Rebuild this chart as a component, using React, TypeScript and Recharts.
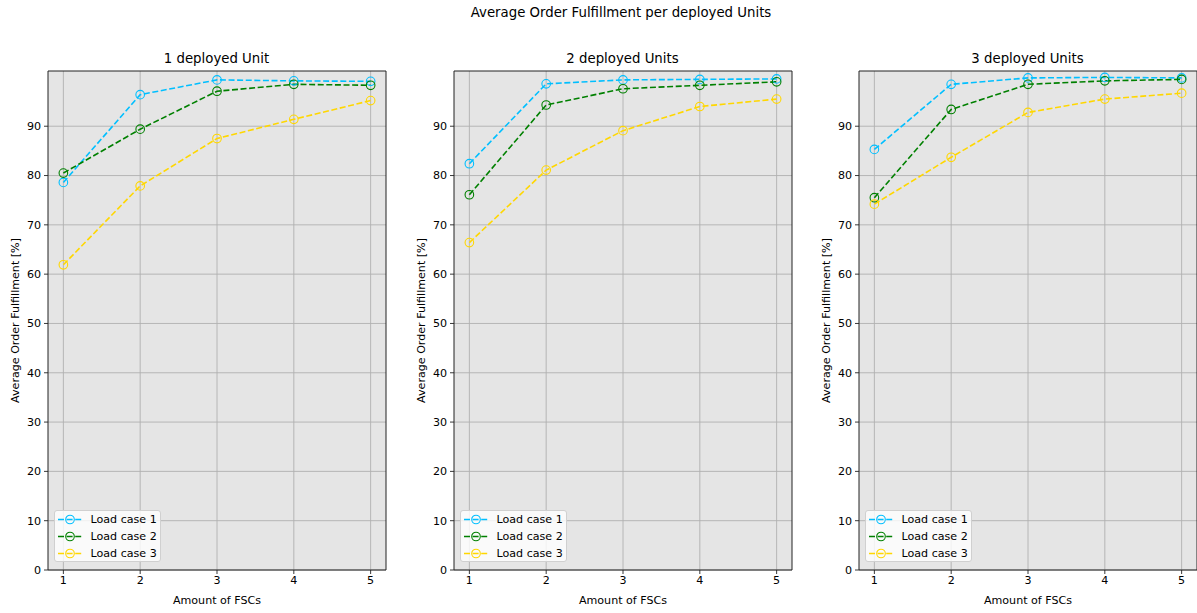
import {
  LineChart,
  Line,
  XAxis,
  YAxis,
  CartesianGrid,
  ReferenceArea,
  Legend,
  Label,
} from "recharts";

const fscCounts = [1, 2, 3, 4, 5];
const yTicks = [0, 10, 20, 30, 40, 50, 60, 70, 80, 90];
const loadCases = ["Load case 1", "Load case 2", "Load case 3"];
const caseColors = ["#00bfff", "#008000", "#ffd700"];
const panelTitles = ["1 deployed Unit", "2 deployed Units", "3 deployed Units"];

const oneUnitCase1 = [78.6, 96.4, 99.4, 99.2, 99.1];
const oneUnitCase2 = [80.5, 89.4, 97.1, 98.5, 98.3];
const oneUnitCase3 = [61.9, 77.9, 87.5, 91.4, 95.2];

const twoUnitsCase1 = [82.4, 98.6, 99.4, 99.5, 99.6];
const twoUnitsCase2 = [76.1, 94.3, 97.6, 98.3, 99.0];
const twoUnitsCase3 = [66.4, 81.1, 89.1, 94.0, 95.5];

const threeUnitsCase1 = [85.3, 98.5, 99.8, 99.9, 99.8];
const threeUnitsCase2 = [75.5, 93.4, 98.5, 99.2, 99.5];
const threeUnitsCase3 = [74.2, 83.7, 92.8, 95.5, 96.7];

const panels = [
  [oneUnitCase1, oneUnitCase2, oneUnitCase3],
  [twoUnitsCase1, twoUnitsCase2, twoUnitsCase3],
  [threeUnitsCase1, threeUnitsCase2, threeUnitsCase3],
];

const FONT = "'DejaVu Sans', sans-serif";
const X_DOMAIN: [number, number] = [0.8, 5.2];
const Y_DOMAIN: [number, number] = [0, 101.2];
const DASH = "6 2.6";

// chart box per panel (plot area starts 47px in from the chart's left)
const chartLefts = [0.5, 406.5, 811.5];
const CHART_TOP = 40;
const CHART_W = 400;
const CHART_H = 573;

function LegendBox() {
  return (
    <div
      style={{
        width: 107,
        height: 52,
        background: "rgba(255,255,255,0.8)",
        border: "1px solid #d0d0d0",
        borderRadius: 3,
        fontFamily: FONT,
        fontSize: 11.1,
        color: "#000",
        boxSizing: "border-box",
        paddingTop: 0,
      }}
    >
      {loadCases.map((name, i) => (
        <div key={name} style={{ display: "flex", alignItems: "center", height: 17 }}>
          <svg width={34} height={17} style={{ flex: "none" }}>
            <line
              x1={3}
              x2={27}
              y1={8.5}
              y2={8.5}
              stroke={caseColors[i]}
              strokeWidth={1.6}
              strokeDasharray={DASH}
            />
            <circle cx={15} cy={8.5} r={4.3} fill="none" stroke={caseColors[i]} strokeWidth={1.1} />
          </svg>
          <span style={{ marginLeft: 2, whiteSpace: "nowrap" }}>{name}</span>
        </div>
      ))}
    </div>
  );
}

function YTitle(props: any) {
  const vb = props.viewBox || { x: 0, y: 0, width: 0, height: 0 };
  const cx = vb.x + 14;
  const cy = vb.y + vb.height / 2;
  return (
    <text
      x={cx}
      y={cy}
      transform={`rotate(-90, ${cx}, ${cy})`}
      textAnchor="middle"
      dominantBaseline="central"
      fontFamily={FONT}
      fontSize={11.1}
      fill="#000"
    >
      Average Order Fulfillment [%]
    </text>
  );
}

function Panel({ idx }: { idx: number }) {
  const series = panels[idx];
  const data = fscCounts.map((fsc, i) => ({
    fsc,
    lc1: series[0][i],
    lc2: series[1][i],
    lc3: series[2][i],
  }));
  const keys = ["lc1", "lc2", "lc3"];

  return (
    <div style={{ position: "absolute", left: chartLefts[idx], top: CHART_TOP }}>
      <div
        style={{
          position: "absolute",
          left: 47,
          top: 11,
          width: 338,
          textAlign: "center",
          fontFamily: FONT,
          fontSize: 13.3,
          lineHeight: "16px",
          color: "#000",
        }}
      >
        {panelTitles[idx]}
      </div>
      <LineChart
        width={CHART_W}
        height={CHART_H}
        data={data}
        margin={{ top: 31, right: 15, bottom: 0, left: 0 }}
      >
        <CartesianGrid
          fill="#e5e5e5"
          stroke="#b0b0b0"
          strokeWidth={0.9}
          horizontalValues={yTicks}
          verticalValues={fscCounts}
        />
        <XAxis
          type="number"
          dataKey="fsc"
          domain={X_DOMAIN}
          ticks={fscCounts}
          allowDataOverflow
          height={43}
          axisLine={false}
          tickSize={4}
          tickLine={{ stroke: "#222", strokeWidth: 0.9 }}
          tickMargin={2}
          tick={{ fill: "#000", fontSize: 11.1, fontFamily: FONT }}
        >
          <Label
            value="Amount of FSCs"
            position="insideBottom"
            offset={9}
            style={{ fill: "#000", fontSize: 11.1, fontFamily: FONT }}
          />
        </XAxis>
        <YAxis
          type="number"
          domain={Y_DOMAIN}
          ticks={yTicks}
          allowDataOverflow
          width={47}
          axisLine={false}
          tickSize={4}
          tickLine={{ stroke: "#222", strokeWidth: 0.9 }}
          tickMargin={3}
          tick={{ fill: "#000", fontSize: 11.1, fontFamily: FONT }}
        >
          <Label content={YTitle} />
        </YAxis>
        {keys.map((k, i) => (
          <Line
            key={k}
            type="linear"
            dataKey={k}
            name={loadCases[i]}
            stroke={caseColors[i]}
            strokeWidth={1.6}
            strokeDasharray={DASH}
            dot={{ r: 4.3, fill: "none", stroke: caseColors[i], strokeWidth: 1.1, strokeDasharray: "none" }}
            activeDot={false}
            isAnimationActive={false}
          />
        ))}
        <ReferenceArea
          x1={X_DOMAIN[0]}
          x2={X_DOMAIN[1]}
          y1={Y_DOMAIN[0]}
          y2={Y_DOMAIN[1]}
          fill="none"
          fillOpacity={0}
          stroke="#222"
          strokeWidth={1}
        />
        <Legend
          layout="horizontal"
          align="center"
          verticalAlign="middle"
          content={() => <LegendBox />}
          wrapperStyle={{ left: 53, top: 470, width: 107, height: 52 }}
        />
      </LineChart>
    </div>
  );
}

export default function App() {
  return (
    <div
      style={{
        position: "absolute",
        left: 0,
        top: 0,
        width: 1197,
        height: 613,
        background: "#fff",
        overflow: "hidden",
      }}
    >
      <div
        style={{
          position: "absolute",
          left: 421,
          top: 5,
          width: 400,
          textAlign: "center",
          fontFamily: FONT,
          fontSize: 13.3,
          lineHeight: "16px",
          color: "#000",
        }}
      >
        Average Order Fulfillment per deployed Units
      </div>
      {panels.map((_, i) => (
        <Panel key={i} idx={i} />
      ))}
    </div>
  );
}
